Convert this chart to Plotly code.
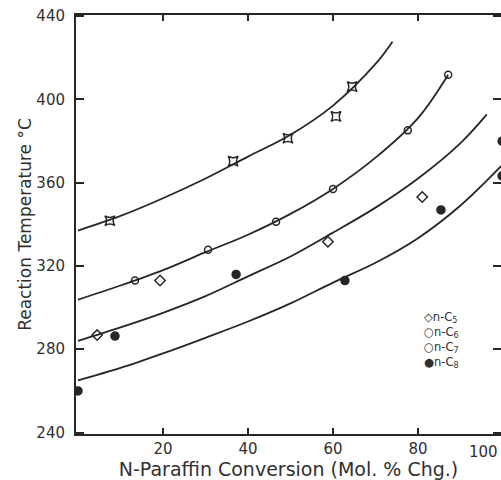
import plotly.graph_objects as go

# ---- data ----
# measured points
c5_x = [7.5, 36.5, 49.4, 60.7, 64.5]
c5_y = [341.7, 370.3, 381.3, 391.8, 406.1]
c6_x = [13.4, 30.6, 46.6, 60.0, 77.6, 87.1]
c6_y = [313.0, 327.8, 341.2, 357.0, 385.1, 411.8]
c7_x = [4.5, 19.3, 58.8, 81.0]
c7_y = [286.8, 313.0, 331.6, 353.1]
c8_x = [0.0, 8.7, 37.2, 62.8, 85.4, 99.8, 99.8]
c8_y = [260.0, 286.3, 315.9, 313.0, 346.9, 379.9, 363.2]

# smoothed curves
f5_x = [0, 10, 20, 30, 40, 50, 60, 70, 74]
f5_y = [337, 344, 352.5, 362, 372.5, 383, 397, 417, 427.7]
f6_x = [0, 10, 20, 30, 40, 50, 60, 70, 80, 87.1]
f6_y = [303.8, 310.6, 318, 326.6, 335, 345, 357, 372, 391, 411.8]
f7_x = [0, 10, 20, 30, 40, 50, 60, 70, 80, 90, 96.2]
f7_y = [284, 290.5, 297.5, 305.5, 315, 324.5, 336, 348, 362, 379, 392.8]
f8_x = [0, 10, 20, 30, 40, 50, 60, 70, 80, 90, 99.6]
f8_y = [265, 271, 278, 285.5, 293.3, 302, 312, 321.5, 333.3, 349, 368]

x_ticks = [20, 40, 60, 80]
x_last_tick = "100"
y_ticks = [240, 280, 320, 360, 400, 440]
legend_lines = ["◇n-C<sub>5</sub>", "○n-C<sub>6</sub>", "○n-C<sub>7</sub>", "●n-C<sub>8</sub>"]

INK = "#262626"
TXT = "#303030"
FONT = "DejaVu Sans"

fig = go.Figure()

for fx, fy in [(f5_x, f5_y), (f6_x, f6_y), (f7_x, f7_y), (f8_x, f8_y)]:
    fig.add_trace(go.Scatter(x=fx, y=fy, mode="lines", line=dict(color=INK, width=1.8, shape="spline", smoothing=1.0),
                             showlegend=False, hoverinfo="skip"))

series = [
    ("n-C5", c5_x, c5_y, "star-square-open", 9),
    ("n-C6", c6_x, c6_y, "circle-open", 7),
    ("n-C7", c7_x, c7_y, "diamond-open", 8),
    ("n-C8", c8_x, c8_y, "circle", 8),
]
for name, xs, ys, sym, sz in series:
    fig.add_trace(go.Scatter(x=xs, y=ys, mode="markers", name=name,
                             marker=dict(symbol=sym, size=sz, color=INK, line=dict(color=INK, width=1.5)),
                             showlegend=False))

# invisible trace to carry the right-hand tick axis
fig.add_trace(go.Scatter(x=[], y=[], yaxis="y2", showlegend=False, hoverinfo="skip"))

fig.update_layout(
    width=501, height=480,
    margin=dict(l=76, r=0, t=15, b=46),
    paper_bgcolor="white", plot_bgcolor="white",
    font=dict(family=FONT, color=TXT),
    showlegend=False,
    xaxis=dict(range=[-0.47, 99.53], tickvals=x_ticks, ticks="inside", ticklen=6, tickwidth=1.5,
               tickcolor=INK, showline=True, linecolor=INK, linewidth=2, mirror="ticks",
               showgrid=False, zeroline=False, tickfont=dict(size=15, color=TXT),
               title=dict(text="N-Paraffin Conversion (Mol. % Chg.)", font=dict(size=19, color=TXT), standoff=4)),
    yaxis=dict(range=[239.3, 440.5], tickvals=y_ticks, ticks="inside", ticklen=8, tickwidth=1.5,
               tickcolor=INK, showline=True, linecolor=INK, linewidth=2,
               showgrid=False, zeroline=False, tickfont=dict(size=15, color=TXT), ticklabelstandoff=6,
               title=dict(text="Reaction Temperature °C", font=dict(size=17, color=TXT), standoff=0)),
    yaxis2=dict(range=[239.3, 440.5], overlaying="y", side="right", tickvals=y_ticks, ticks="inside",
                ticklen=8, tickwidth=1.5, tickcolor=INK, showticklabels=False, showline=False,
                showgrid=False, zeroline=False),
)

# last x tick label sits at the (cropped) right edge of the axis
fig.add_annotation(x=1.0, y=0, xref="paper", yref="paper", xanchor="right", yanchor="top", yshift=-7, xshift=-1,
                   text=x_last_tick, showarrow=False, font=dict(size=15, color=TXT, family=FONT))

fig.add_annotation(x=0.815, y=0.224, xref="paper", yref="paper", xanchor="left", yanchor="middle",
                   text="<br>".join(legend_lines), align="left", showarrow=False,
                   font=dict(size=11.5, color=TXT, family=FONT))

fig.write_html("out.html")
